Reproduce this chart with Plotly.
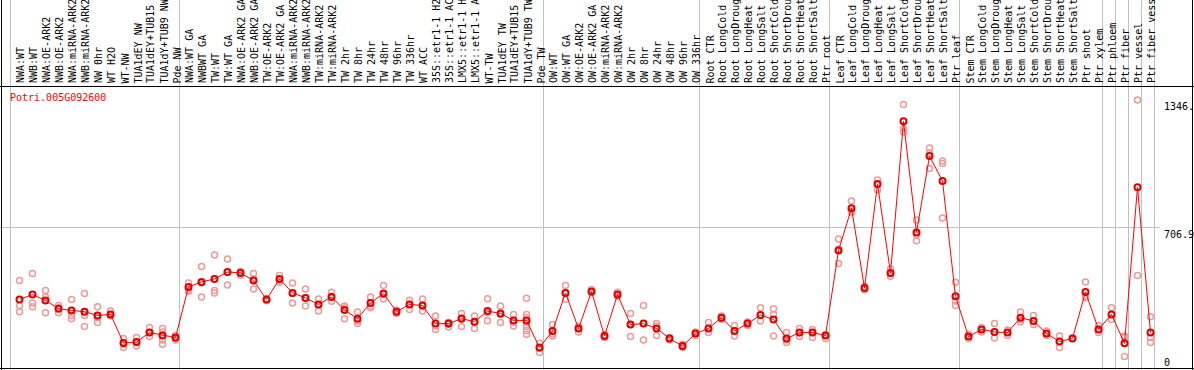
import plotly.graph_objects as go

# ---------------- data ----------------
labels = [
    "NWA:WT", "NWB:WT", "NWA:OE-ARK2", "NWB:OE-ARK2", "NWA:miRNA-ARK2", "NWB:miRNA-ARK2",
    "NW 0hr", "WT H2O", "WT-NW", "TUA1dEY NW", "TUA1dEY+TUB15 NW", "TUA1dY+TUB9 NW", "Pde NW",
    "NWA:WT GA", "NWBWT GA", "TW:WT", "TW:WT GA", "NWA:OE-ARK2 GA", "NWB:OE-ARK2 GA",
    "TW:OE-ARK2", "TW:OE-ARK2 GA", "NWA:miRNA-ARK2 GA", "NWB:miRNA-ARK2 GA", "TW:miRNA-ARK2",
    "TW:miRNA-ARK2 GA", "TW 2hr", "TW 8hr", "TW 24hr", "TW 48hr", "TW 96hr", "TW 336hr",
    "WT ACC", "35S::etr1-1 H2O", "35S::etr1-1 ACC", "LMX5::etr1-1 H2O", "LMX5::etr1-1 ACC",
    "WT-TW", "TUA1dEY TW", "TUA1dEY+TUB15 TW", "TUA1dY+TUB9 TW", "Pde TW",
    "OW:WT", "OW:WT GA", "OW:OE-ARK2", "OW:OE-ARK2 GA", "OW:miRNA-ARK2", "OW:miRNA-ARK2 GA",
    "OW 2hr", "OW 8hr", "OW 24hr", "OW 48hr", "OW 96hr", "OW 336hr",
    "Root CTR", "Root LongCold", "Root LongDrought", "Root LongHeat", "Root LongSalt",
    "Root ShortCold", "Root ShortDrought", "Root ShortHeat", "Root ShortSalt", "Ptr root",
    "Leaf CTR", "Leaf LongCold", "Leaf LongDrought", "Leaf LongHeat", "Leaf LongSalt",
    "Leaf ShortCold", "Leaf ShortDrought", "Leaf ShortHeat", "Leaf ShortSalt", "Ptr leaf",
    "Stem CTR", "Stem LongCold", "Stem LongDrought", "Stem LongHeat", "Stem LongSalt",
    "Stem ShortCold", "Stem ShortDrought", "Stem ShortHeat", "Stem ShortSalt", "Ptr shoot",
    "Ptr xylem", "Ptr phloem", "Ptr fiber", "Ptr vessel", "Ptr fiber vessel",
]

means = [
    346, 371, 341, 300, 291, 285, 266, 271, 128, 133, 180, 166, 155,
    409, 434, 449, 484, 479, 441, 346, 449, 379, 354, 321, 359, 293, 250, 329, 376, 285, 321,
    316, 225, 225, 250, 235, 288, 276, 241, 241, 105,
    188, 379, 200, 386, 163, 371, 220, 225, 201, 150, 113, 175,
    201, 255, 188, 225, 268, 246, 150, 180, 180, 166,
    591, 804, 404, 925, 479, 1239, 682, 1065, 940, 362,
    160, 196, 183, 180, 255, 238, 175, 135, 151, 384, 196,
    271, 126, 909, 180,
]

replicates = [
    [441, 316, 285], [476, 329, 310], [391, 359, 279], [316, 305, 279], [346, 266, 250],
    [376, 266, 210], [310, 266, 255, 230], [288, 271, 263], [150, 121, 105], [155, 130, 113],
    [205, 180, 160], [200, 183, 143, 121], [166, 150, 143],
    [429, 396, 387], [511, 429, 359], [569, 391, 379], [549, 482, 419], [487, 479, 467],
    [476, 448, 399], [350, 346, 340], [466, 442, 432], [429, 376, 329], [399, 355, 313],
    [349, 321, 288], [382, 362, 337], [313, 305, 250], [283, 238, 226], [359, 313, 305],
    [416, 371, 349], [293, 285, 276], [342, 321, 296], [349, 312, 288], [263, 213, 196],
    [230, 222, 208], [276, 255, 210], [263, 230, 200], [350, 280, 240], [313, 271, 230],
    [271, 230, 213], [352, 271, 255, 230, 210, 190, 172], [126, 100, 80],
    [221, 173, 163], [416, 379, 346], [210, 200, 183], [396, 386, 380], [170, 163, 156],
    [382, 370, 362], [276, 220, 160], [316, 225, 143], [225, 213, 166], [155, 150, 143],
    [121, 113, 105], [183, 175, 166],
    [230, 200, 180], [263, 255, 246], [216, 188, 163], [233, 225, 216], [305, 268, 238],
    [300, 271, 163], [180, 143, 130], [201, 180, 160], [196, 180, 156], [170, 166, 150],
    [649, 599, 526], [840, 790, 782], [412, 404, 395], [945, 925, 895], [499, 475, 462],
    [1324, 1203, 1186], [745, 670, 641], [1106, 1080, 1003], [1040, 1028, 754], [432, 338, 316],
    [170, 160, 150], [205, 196, 183], [225, 183, 153], [193, 180, 166], [283, 246, 233],
    [266, 238, 221], [188, 175, 166], [163, 135, 105], [153, 150], [434, 362, 355],
    [216, 196, 180],
    [305, 246], [163, 155, 60], [1346.5, 466], [260, 155, 130],
]

group_starts = [0, 13, 41, 53, 63, 73, 84, 85, 86, 87, 88]
gene_name = "Potri.005G092600"

# ---------------- layout geometry (pixels) ----------------
W, H = 1194, 370
FIRST_X, STEP = 19.5, 13.0
GRID_OFF = 9.0
PLOT_TOP, PLOT_BOTTOM = 86.5, 368.5
LABEL_BOTTOM = 84.5
LABEL_CHARS = 14          # header column shows at most 14 characters
FONT = "DejaVu Sans Mono"

x_idx = list(range(len(labels)))
rep_x, rep_y = [], []
for i, reps in enumerate(replicates):
    for v in reps:
        rep_x.append(i)
        rep_y.append(v)

ymax_data = max(rep_y)
y_top = ymax_data * 1.05
y_mid = y_top / 2
scale = (PLOT_BOTTOM - PLOT_TOP) / y_top
y_range = [(PLOT_BOTTOM - H) / scale, PLOT_BOTTOM / scale]
x_range = [-FIRST_X / STEP, (W - FIRST_X) / STEP]

fig = go.Figure()
fig.add_trace(go.Scatter(
    x=rep_x, y=rep_y, mode="markers", hoverinfo="skip",
    marker=dict(symbol="circle-open", size=6, color="#ee9a9a", line=dict(width=1.5)),
))
fig.add_trace(go.Scatter(
    x=x_idx, y=means, mode="lines+markers", text=labels,
    line=dict(color="#ff0000", width=1),
    marker=dict(symbol="circle-open", size=6, color="#e00000", line=dict(width=2)),
))

shapes = []
for b in group_starts:
    shapes.append(dict(type="line", xref="x", yref="paper",
                       x0=b - GRID_OFF / STEP, x1=b - GRID_OFF / STEP, y0=0, y1=1,
                       line=dict(color="#c0c0c0", width=1), layer="below"))
shapes.append(dict(type="line", xref="paper", yref="y", x0=0, x1=1160 / W,
                   y0=y_mid, y1=y_mid, line=dict(color="#c0c0c0", width=1), layer="below"))
# header separator and frame
shapes.append(dict(type="line", xref="paper", yref="paper", x0=0, x1=1,
                   y0=1 - PLOT_TOP / H, y1=1 - PLOT_TOP / H, line=dict(color="black", width=1)))
shapes.append(dict(type="line", xref="paper", yref="paper", x0=0, x1=1,
                   y0=1 - PLOT_BOTTOM / H, y1=1 - PLOT_BOTTOM / H, line=dict(color="black", width=1)))
shapes.append(dict(type="line", xref="paper", yref="paper", x0=1.5 / W, x1=1.5 / W,
                   y0=0, y1=1, line=dict(color="black", width=1)))
shapes.append(dict(type="line", xref="paper", yref="paper", x0=1 - 1.5 / W, x1=1 - 1.5 / W,
                   y0=0, y1=1, line=dict(color="black", width=1)))

annotations = []
for i, lab in enumerate(labels):
    annotations.append(dict(x=i, xref="x", y=1 - LABEL_BOTTOM / H, yref="paper",
                            text=lab[:LABEL_CHARS], showarrow=False, textangle=-90,
                            xanchor="center", yanchor="bottom", borderpad=0, xshift=1,
                            font=dict(family=FONT, size=10, color="black")))
annotations.append(dict(x=9.3 / W, xref="paper", y=1 - 97 / H, yref="paper",
                        text=gene_name, showarrow=False, xanchor="left", yanchor="middle",
                        borderpad=0, font=dict(family=FONT, size=10, color="#ff0000")))
tick_x = 1163 / W
annotations.append(dict(x=tick_x, xref="paper", y=ymax_data, yref="y",
                        text=f"{ymax_data:.1f}"[:5], showarrow=False, xanchor="left",
                        yanchor="top", borderpad=0, font=dict(family=FONT, size=10, color="black")))
annotations.append(dict(x=tick_x, xref="paper", y=y_mid, yref="y",
                        text=f"{y_mid:.1f}"[:5], showarrow=False, xanchor="left",
                        yanchor="top", borderpad=0, font=dict(family=FONT, size=10, color="black")))
annotations.append(dict(x=tick_x, xref="paper", y=0, yref="y",
                        text="0", showarrow=False, xanchor="left",
                        yanchor="bottom", borderpad=0, font=dict(family=FONT, size=10, color="black")))

fig.update_layout(
    width=W, height=H, margin=dict(l=0, r=0, t=0, b=0, pad=0),
    paper_bgcolor="white", plot_bgcolor="white", showlegend=False,
    xaxis=dict(range=x_range, showgrid=False, zeroline=False, showticklabels=False,
               showline=False, ticks="", fixedrange=True),
    yaxis=dict(range=y_range, showgrid=False, zeroline=False, showticklabels=False,
               showline=False, ticks="", fixedrange=True),
    shapes=shapes, annotations=annotations,
)

fig.write_html(
    "out.html",
    config={"displayModeBar": False},
    post_script="document.body.style.margin='0';document.body.style.overflow='hidden';",
)
